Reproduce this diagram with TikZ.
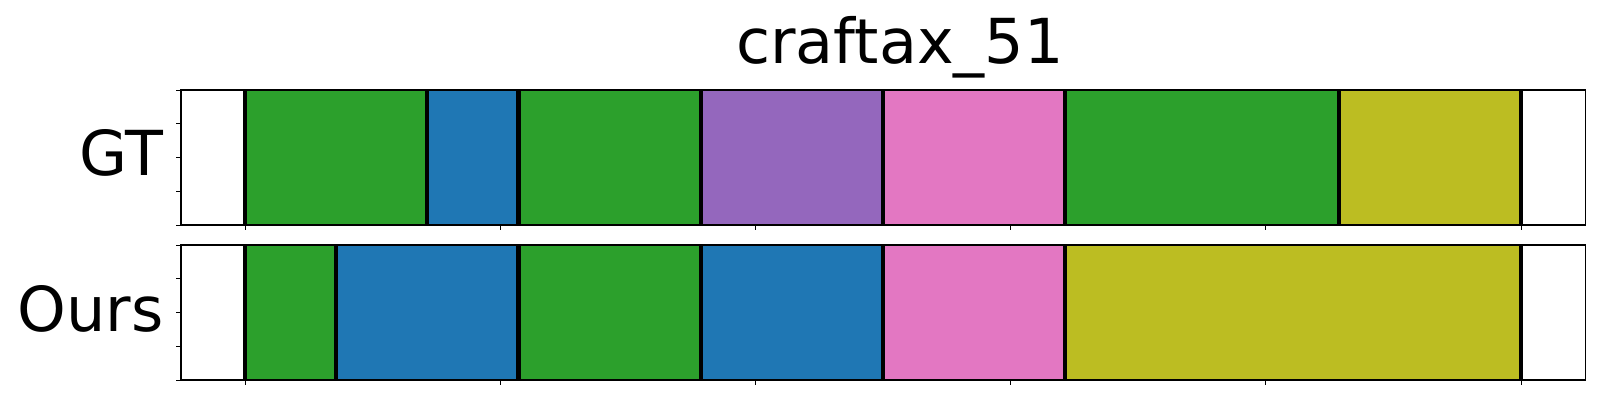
\documentclass[tikz,border=0pt]{standalone}
\usepackage{fontspec}
\setmainfont{DejaVu Sans}
\definecolor{tgreen}{HTML}{2CA02C}
\definecolor{tblue}{HTML}{1F77B4}
\definecolor{tpurple}{HTML}{9467BD}
\definecolor{tpink}{HTML}{E377C2}
\definecolor{tolive}{HTML}{BCBD22}
\begin{document}
\begin{tikzpicture}[x=1bp,y=-1bp,
  frame/.style={draw=black,line width=1.1bp},
  tickline/.style={draw=black,line width=1bp},
  segline/.style={draw=black,line width=4.2bp},
  bigtext/.style={font=\fontsize{62bp}{70bp}\selectfont,inner sep=0pt,outer sep=0pt}]
\useasboundingbox (0,0) rectangle (1600,400);
\fill[white] (0,0) rectangle (1600,400);
% title and labels
\node[bigtext,anchor=base] (title) at (900,63.3) {craftax\_51};
\node[bigtext,anchor=base east] (gt) at (163.5,175) {GT};
\node[bigtext,anchor=base east] (ours) at (163.5,331) {Ours};
\begin{scope}[xshift=245bp,x=18.2286bp]
  % GT row
  \foreach \a/\b/\c in {0/10/tgreen,10/15/tblue,15/25/tgreen,25/35/tpurple,35/45/tpink,45/60/tgreen,60/70/tolive}
    \fill[\c] (\a,90) rectangle (\b,225);
  \foreach \v in {0,10,15,25,35,45,60,70}
    \draw[segline] (\v,90) -- (\v,225);
  % Ours row
  \foreach \a/\b/\c in {0/5/tgreen,5/15/tblue,15/25/tgreen,25/35/tblue,35/45/tpink,45/70/tolive}
    \fill[\c] (\a,245) rectangle (\b,380);
  \foreach \v in {0,5,15,25,35,45,70}
    \draw[segline] (\v,245) -- (\v,380);
  % x ticks
  \foreach \v in {0,14,28,42,56,70} {
    \draw[tickline] (\v,225) -- (\v,230);
    \draw[tickline] (\v,380) -- (\v,385);
  }
\end{scope}
% frames
\draw[frame] (181,90) rectangle (1585.7,225);
\draw[frame] (181,245) rectangle (1585.7,380);
% y ticks
\foreach \t in {90,123.75,157.5,191.25,225,245,278.75,312.5,346.25,380}
  \draw[tickline] (181,\t) -- (176,\t);
\end{tikzpicture}
\end{document}
